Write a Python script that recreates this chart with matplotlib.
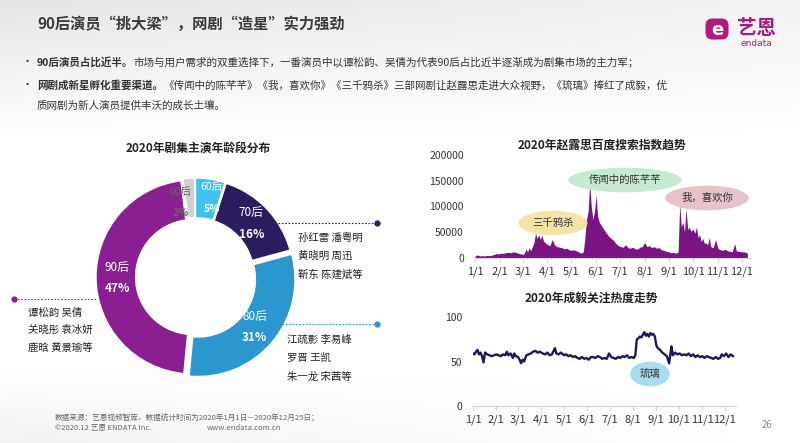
import matplotlib
matplotlib.use("Agg")
import matplotlib.pyplot as plt
import numpy as np
import pandas as pd
from matplotlib.patches import FancyBboxPatch

plt.rcParams["font.family"] = ["Noto Sans CJK SC", "DejaVu Sans"]

W, H = 800, 443

# ---- data -----------------------------------------------------------------
age_groups = ["60后", "70后", "80后", "90后", "00后"]
age_share = [5, 16, 31, 47, 2]
age_colors = ["#3ec1ee", "#2b1c60", "#2b97cf", "#8b1f91", "#cfcfcf"]

actors_70 = ["孙红雷 潘粤明", "黄晓明 周迅", "靳东 陈建斌等"]
actors_80 = ["江疏影 李易峰", "罗晋 王凯", "朱一龙 宋茜等"]
actors_90 = ["谭松韵 吴倩", "关晓彤 袁冰妍", "鹿晗 黄景瑜等"]

search_dates = [
    "01-01", "01-04", "01-07", "01-10", "01-13", "01-16", "01-19", "01-22",
    "01-25", "01-28", "01-31", "02-03", "02-06", "02-09", "02-12", "02-15",
    "02-18", "02-21", "02-24", "02-27", "03-01", "03-03", "03-05", "03-07",
    "03-09", "03-11", "03-13", "03-15", "03-17", "03-19", "03-21", "03-23",
    "03-25", "03-27", "03-29", "04-01", "04-04", "04-07", "04-10", "04-13",
    "04-16", "04-19", "04-22", "04-25", "04-28", "05-01", "05-04", "05-07",
    "05-10", "05-13", "05-16", "05-18", "05-20", "05-22", "05-24", "05-26",
    "05-28", "05-30", "06-01", "06-03", "06-05", "06-08", "06-11", "06-14",
    "06-17", "06-20", "06-23", "06-26", "06-29", "07-02", "07-05", "07-08",
    "07-11", "07-14", "07-17", "07-20", "07-23", "07-26", "07-29", "08-01",
    "08-04", "08-07", "08-10", "08-13", "08-16", "08-19", "08-22", "08-25",
    "08-28", "08-31", "09-03", "09-06", "09-09", "09-12", "09-14", "09-16",
    "09-18", "09-20", "09-22", "09-24", "09-26", "09-28", "10-01", "10-03",
    "10-05", "10-07", "10-09", "10-11", "10-13", "10-15", "10-17", "10-19",
    "10-21", "10-23", "10-26", "10-29", "11-01", "11-04", "11-07", "11-10",
    "11-13", "11-16", "11-19", "11-22", "11-24", "11-27", "11-30", "12-03",
    "12-06", "12-08",
]
search_index = [
    4000, 6000, 4000, 4500, 4000, 5000, 4500, 5500,
    7000, 8500, 8000, 9500, 9000, 10500, 11000, 10000,
    12000, 11000, 9500, 8000, 7000, 9000, 18000, 12000,
    20000, 14000, 22000, 30000, 48000, 38000, 45000, 36000,
    44000, 33000, 30000, 26000, 24000, 36000, 25000, 22000,
    21000, 20000, 18000, 19000, 16000, 15000, 16000, 14000,
    12000, 9000, 12000, 40000, 75000, 90000, 145000, 100000,
    75000, 90000, 122000, 80000, 70000, 62000, 55000, 48000,
    42000, 38000, 34000, 28000, 24000, 22000, 21000, 26000,
    20000, 19000, 21000, 18000, 17000, 21000, 22000, 30000,
    22000, 24000, 20000, 22000, 19000, 20000, 16000, 15000,
    13000, 12000, 10000, 11000, 9000, 12000, 105000, 60000,
    70000, 50000, 96000, 55000, 60000, 52000, 56000, 48000,
    60000, 40000, 45000, 32000, 38000, 28000, 30000, 25000,
    40000, 22000, 20000, 36000, 18000, 16000, 15000, 17000,
    14000, 13000, 12000, 28000, 14000, 13000, 12000, 12000,
    11000, 9000,
]

heat_dates = [
    "01-01", "01-03", "01-05", "01-07", "01-09", "01-11", "01-13", "01-15",
    "01-17", "01-20", "01-23", "01-26", "01-29", "02-01", "02-04", "02-07",
    "02-10", "02-13", "02-15", "02-17", "02-20", "02-23", "02-25", "02-27",
    "03-01", "03-03", "03-05", "03-07", "03-09", "03-12", "03-15", "03-18",
    "03-21", "03-24", "03-27", "03-30", "04-03", "04-06", "04-09", "04-12",
    "04-15", "04-19", "04-21", "04-24", "04-27", "05-01", "05-04", "05-07",
    "05-10", "05-13", "05-16", "05-19", "05-22", "05-25", "05-28", "05-31",
    "06-03", "06-06", "06-09", "06-12", "06-15", "06-18", "06-21", "06-24",
    "06-27", "06-30", "07-03", "07-06", "07-09", "07-12", "07-15", "07-18",
    "07-21", "07-24", "07-27", "07-30", "08-02", "08-04", "08-06", "08-08",
    "08-10", "08-12", "08-14", "08-16", "08-18", "08-20", "08-22", "08-24",
    "08-26", "08-28", "08-30", "09-01", "09-03", "09-06", "09-09", "09-12",
    "09-15", "09-18", "09-20", "09-21", "09-23", "09-26", "09-29", "10-02",
    "10-05", "10-08", "10-11", "10-14", "10-17", "10-20", "10-23", "10-26",
    "10-29", "11-01", "11-04", "11-07", "11-10", "11-13", "11-16", "11-19",
    "11-22", "11-25", "11-27", "11-30", "12-03", "12-06", "12-09", "12-12",
]
heat_index = [
    59, 58, 61, 63, 58, 60, 56, 49,
    60, 58, 57, 56, 57, 58, 57, 56,
    58, 57, 61, 57, 59, 54, 59, 56,
    55, 52, 48, 52, 50, 57, 58, 59,
    61, 62, 60, 61, 59, 58, 60, 57,
    58, 65, 59, 58, 60, 57, 58, 56,
    57, 55, 56, 54, 53, 55, 53, 54,
    52, 55, 55, 54, 56, 55, 53, 54,
    53, 59, 55, 54, 53, 55, 54, 56,
    55, 57, 54, 55, 54, 57, 75, 76,
    78, 77, 80, 83, 79, 81, 78, 82,
    80, 81, 78, 68, 65, 63, 60, 58,
    56, 48, 60, 67, 57, 60, 58, 59,
    57, 58, 57, 59, 56, 58, 55, 57,
    55, 56, 54, 56, 55, 54, 53, 55,
    53, 54, 58, 56, 59, 55, 58, 56,
]

month_ticks = [f"2020-{m:02d}-01" for m in range(1, 13)]
month_labels = [f"{m}/1" for m in range(1, 13)]


def px_axes(fig, left, top, right, bottom):
    """Add axes using pixel box (origin top-left)."""
    return fig.add_axes(
        [left / W, 1 - bottom / H, (right - left) / W, (bottom - top) / H]
    )


fig = plt.figure(figsize=(W / 100, H / 100), dpi=100)

# Background: light grey band at the top fading into white
bg = fig.add_axes([0, 0, 1, 1])
bg.axis("off")
yy, xx = np.mgrid[0:1:200j, 0:1:400j]
shade = (
    1
    - 0.10 * (1 - np.clip(yy / 0.32, 0, 1)) * (1 - 0.5 * xx)
    - 0.05 * np.clip((yy - 0.82) / 0.18, 0, 1) * (1 - xx)
)
bg.imshow(shade, cmap="gray", vmin=0, vmax=1, aspect="auto", extent=[0, 1, 1, 0])

# ---- top right: search index area chart ------------------------------------
start = pd.Timestamp("2020-01-01")
ax1 = px_axes(fig, 475, 155, 749, 258)
d1 = pd.to_datetime(["2020-" + d for d in search_dates])
ax1.fill_between(d1, search_index, color="#7a1483", linewidth=0)
ax1.set_xlim(start, start + pd.Timedelta(days=344))
ax1.set_ylim(0, 200000)
ax1.set_yticks([0, 50000, 100000, 150000, 200000])
ax1.set_xticks(pd.to_datetime(month_ticks))
ax1.set_xticklabels(month_labels)

# ---- bottom right: heat line chart -----------------------------------------
ax2 = px_axes(fig, 473, 317, 736, 406)
d2 = pd.to_datetime(["2020-" + d for d in heat_dates])
ax2.plot(d2, heat_index, color="#1e1760", linewidth=1.7)
ax2.set_xlim(start, start + pd.Timedelta(days=350))
ax2.set_ylim(0, 100)
ax2.set_yticks([0, 50, 100])
ax2.set_xticks(pd.to_datetime(month_ticks))
ax2.set_xticklabels(month_labels)

for ax in (ax1, ax2):
    ax.patch.set_alpha(0)
    for side in ("top", "right", "left"):
        ax.spines[side].set_visible(False)
    ax.spines["bottom"].set_color("#d4d4d4")
    ax.tick_params(axis="y", length=0, pad=8, labelsize=7.5, labelcolor="#333333")
    ax.tick_params(axis="x", length=3, color="#cfcfcf", pad=3, labelsize=8,
                   labelcolor="#333333")

# ---- donut ----------------------------------------------------------------
cx, cy = 195, 277
ax3 = px_axes(fig, cx - 103, cy - 103, cx + 103, cy + 103)
wedges, _ = ax3.pie(
    age_share,
    colors=age_colors,
    startangle=90,
    counterclock=False,
    radius=1,
    explode=[0.02, 0.02, 0.04, 0.02, 0.02],
    wedgeprops=dict(width=0.41, edgecolor="white", linewidth=1.2),
)
ax3.set_xlim(-1.06, 1.06)
ax3.set_ylim(-1.06, 1.06)
ax3.set_aspect("equal")
ax3.axis("off")
# small slices at the top get nudged apart so their labels do not collide
label_nudge = {"60后": (78, 0.83), "00后": (101, 0.78)}
for w, g, s in zip(wedges, age_groups, age_share):
    ang, r = label_nudge.get(g, ((w.theta1 + w.theta2) / 2, 0.8))
    ang = np.deg2rad(ang)
    x, y = r * np.cos(ang), r * np.sin(ang)
    col = "#666666" if g == "00后" else "white"
    fs = 7.5 if g in label_nudge else 8.5
    ax3.text(x, y + 0.11, g, ha="center", va="center", fontsize=fs, color=col)
    ax3.text(x, y - 0.11, f"{s}%", ha="center", va="center", fontsize=fs,
             color=col, weight="bold")

# ---- overlay for text in pixel coordinates ---------------------------------
ov = fig.add_axes([0, 0, 1, 1])
ov.set_xlim(0, W)
ov.set_ylim(H, 0)
ov.axis("off")
ov.patch.set_alpha(0)

ov.text(37, 24, "90后演员“挑大梁”，网剧“造星”实力强劲", fontsize=11,
        weight="bold", color="#3a3a3a", va="center")

# logo
ov.add_patch(FancyBboxPatch((707, 20), 20, 18,
                            boxstyle="round,pad=1.5,rounding_size=7",
                            fc="#b0197e", ec="none"))
ov.text(717, 29.5, "e", fontsize=13, weight="bold", color="white",
        ha="center", va="center", family="DejaVu Sans")
ov.text(756, 28, "艺恩", fontsize=14, weight="bold", color="#a8197d",
        ha="center", va="center")
ov.text(756, 43, "endata", fontsize=6.5, color="#a8197d", ha="center",
        va="center", family="DejaVu Sans")

renderer = fig.canvas.get_renderer()


def rich_line(x, y, parts, size=7.6):
    for s, bold in parts:
        t = ov.text(x, y, s, fontsize=size, va="center", color="#333333",
                    weight="bold" if bold else "normal")
        x += t.get_window_extent(renderer).width


ov.text(22, 62, "•", fontsize=8, va="center", color="#333333")
ov.text(22, 85, "•", fontsize=8, va="center", color="#333333")
rich_line(37, 62, [
    ("90后演员占比近半。", True),
    ("市场与用户需求的双重选择下，一番演员中以谭松韵、吴倩为代表90后占比近半逐渐成为剧集市场的主力军；", False),
])
rich_line(37, 85, [
    ("网剧成新星孵化重要渠道。", True),
    ("《传闻中的陈芊芊》《我，喜欢你》《三千鸦杀》三部网剧让赵露思走进大众视野，《琉璃》捧红了成毅，优", False),
])
rich_line(37, 106, [("质网剧为新人演员提供丰沃的成长土壤。", False)])

# chart titles
ov.text(198, 148, "2020年剧集主演年龄段分布", fontsize=8.5, weight="bold",
        ha="center", va="center", color="#222222")
ov.text(602, 145, "2020年赵露思百度搜索指数趋势", fontsize=8.5, weight="bold",
        ha="center", va="center", color="#222222")
ov.text(591, 298, "2020年成毅关注热度走势", fontsize=8.5, weight="bold",
        ha="center", va="center", color="#222222")

# drama labels
for x, y, s, c in [
    (553, 223, "三千鸦杀", "#f6e4a6"),
    (625, 180, "传闻中的陈芊芊", "#c6e9d2"),
    (707, 198, "我，喜欢你", "#e6c3c6"),
    (650, 374, "琉璃", "#a9dcee"),
]:
    ov.text(x, y, s, fontsize=7.5, ha="center", va="center", color="#333333",
            bbox=dict(boxstyle="ellipse,pad=0.35", fc=c, ec="none"))

# leader lines and actor names
for (x0, x1, y, dot_x, col) in [
    (278, 377, 223, 377, age_colors[1]),
    (282, 377, 324, 377, age_colors[2]),
    (14, 97, 299, 14, age_colors[3]),
]:
    ov.plot([x0, x1], [y, y], linestyle=(0, (1.5, 1.5)), color=col, linewidth=0.8)
    ov.plot([dot_x], [y], "o", color=col, markersize=3.5)

for x, ys, names in [
    (298, [238, 256, 275], actors_70),
    (287, [340, 358, 377], actors_80),
    (28, [313, 330, 348], actors_90),
]:
    for y, n in zip(ys, names):
        ov.text(x, y, n, fontsize=7.5, va="center", color="#222222")

# footer
ov.text(55, 418, "数据来源：艺恩视频智库，数据统计时间为2020年1月1日—2020年12月25日；",
        fontsize=5.5, color="#666666", va="center")
ov.text(55, 428, "©2020.12 艺恩 ENDATA Inc.", fontsize=5.5, color="#666666",
        va="center")
ov.text(207, 428, "www.endata.com.cn", fontsize=5.5, color="#666666",
        va="center")
ov.text(767, 425, "26", fontsize=7, color="#888888", va="center", ha="center")

fig.savefig("out.png", dpi=100)
